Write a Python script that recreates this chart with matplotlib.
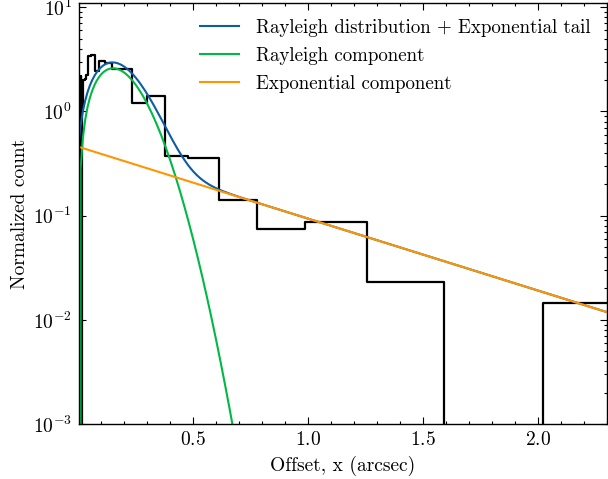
import matplotlib
matplotlib.use("Agg")
import matplotlib.pyplot as plt
import numpy as np
from matplotlib.ticker import MultipleLocator, LogLocator, NullFormatter

plt.rcParams['font.family'] = 'serif'
plt.rcParams['font.serif'] = ['cmr10', 'DejaVu Serif']
plt.rcParams['mathtext.fontset'] = 'cm'
plt.rcParams['axes.formatter.use_mathtext'] = True
plt.rcParams['font.size'] = 14

# histogram (log-spaced bins), normalized counts
bin_edges = [0.0105, 0.0133, 0.0169, 0.0215, 0.0273, 0.0346, 0.0440, 0.0559,
             0.0709, 0.0901, 0.1144, 0.1453, 0.1845, 0.2343, 0.2976, 0.378,
             0.479, 0.611, 0.776, 0.986, 1.254, 1.592, 2.02, 2.57]
counts = [2.2, 0.0, 1.1, 2.0, 2.05, 2.25, 3.4, 3.5,
          2.44, 3.08, 2.95, 2.55, 2.55, 1.2, 1.42, 0.373,
          0.357, 0.141, 0.0742, 0.0872, 0.0233, 0.0, 0.0144]

# fitted model parameters
ray_sigma = 0.151
ray_amp = 0.647
exp_amp = 0.459
exp_scale = 0.629
x_model = np.linspace(0, 2.3, 231)

blue = '#0C5DA5'
green = '#00B945'
orange = '#FF9500'

rayleigh = ray_amp * x_model / ray_sigma**2 * np.exp(-x_model**2 / (2 * ray_sigma**2))
expo = exp_amp * np.exp(-x_model / exp_scale)

fig, ax = plt.subplots(figsize=(6.08, 4.79), dpi=100)
plt.subplots_adjust(left=0.1299, right=0.9984, top=0.9937, bottom=0.1148)

xs = np.concatenate([[bin_edges[0]], bin_edges])
ys = np.concatenate([[0.0], counts, [counts[-1]]])
ax.step(xs, ys, where='post', color='k', lw=1.6)

ax.plot(x_model, rayleigh + expo, color=blue, lw=1.5,
        label='Rayleigh distribution + Exponential tail')
ax.plot(x_model, rayleigh, color=green, lw=1.5, label='Rayleigh component')
ax.plot(x_model, expo, color=orange, lw=1.5, label='Exponential component')

ax.set_yscale('log')
ax.set_xlim(0.003, 2.3)
ax.set_ylim(1e-3, 11)

ax.xaxis.set_major_locator(MultipleLocator(0.5))
ax.xaxis.set_minor_locator(MultipleLocator(0.1))
ax.yaxis.set_minor_locator(LogLocator(base=10, subs=np.arange(2, 10), numticks=20))
ax.yaxis.set_minor_formatter(NullFormatter())
ax.tick_params(which='both', direction='in', top=True, right=True, width=0.8)
ax.tick_params(which='major', length=5, pad=5)
ax.tick_params(which='minor', length=2.5)
for s in ax.spines.values():
    s.set_linewidth(1.0)

ax.set_xlabel('Offset, x (arcsec)', labelpad=5)
ax.set_ylabel('Normalized count', labelpad=3)
ax.legend(loc='upper right', frameon=False, handlelength=2.1, fontsize=13.6,
          borderaxespad=0.45, labelspacing=0.52, handletextpad=0.9)

plt.savefig('out.png', dpi=100)
